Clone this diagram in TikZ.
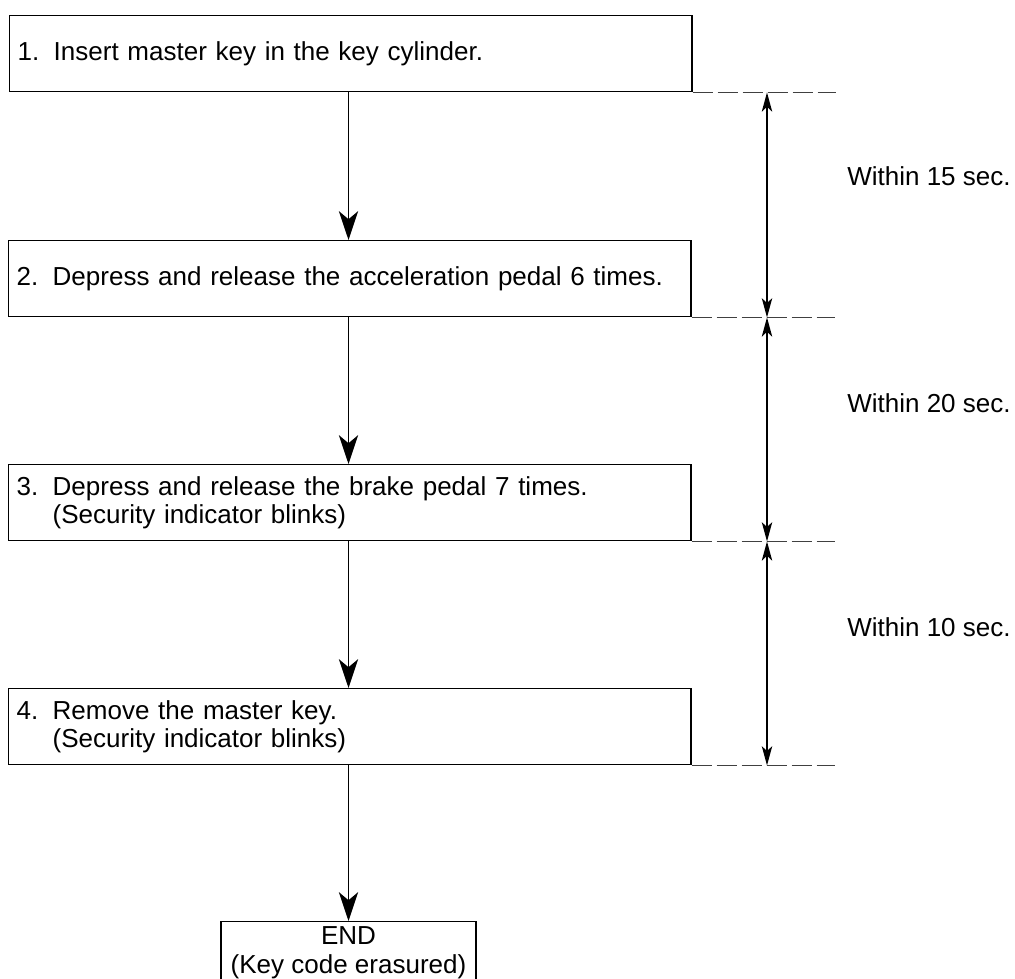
\documentclass[tikz,border=0pt]{standalone}
\usepackage{fontspec}
\setmainfont{Liberation Sans}
\usetikzlibrary{arrows.meta}

\tikzset{
  stepbox/.style={draw, line width=1pt, anchor=north west, text width=16.65cm, minimum height=1.9cm,
    align=left, inner xsep=0.2cm, inner ysep=0pt, font=\fontsize{18.5}{20.5}\selectfont},
  endbox/.style={draw, line width=1pt, anchor=north, minimum width=6.375cm, minimum height=1.55cm,
    align=center, inner sep=0pt, font=\fontsize{18.5}{20.5}\selectfont},
  flow/.style={-{Stealth[length=0.72cm, width=0.48cm, inset=0.2cm]}, line width=1pt},
  span/.style={{Stealth[length=0.48cm, width=0.26cm, inset=0.12cm]}-{Stealth[length=0.48cm, width=0.26cm, inset=0.12cm]}, line width=1pt},
  guide/.style={draw=black!75, line width=1pt, dash pattern=on 0.5cm off 0.125cm},
  timelabel/.style={anchor=west, inner xsep=0pt, font=\fontsize{18.5}{20.5}\selectfont}
}
\newcommand{\stepno}[1]{\makebox[0.9cm][l]{#1}}

\begin{document}
\begin{tikzpicture}[x=0.025cm, y=-0.025cm]
\useasboundingbox (0,0) rectangle (1015,979);

% --- Steps ---
\node[stepbox] (s1) at (9,15) {\stepno{1.}Insert master key in the key cylinder.};
\node[stepbox] (s2) at (8,240) {\stepno{2.}Depress and release the acceleration pedal 6 times.};
\node[stepbox] (s3) at (8,464) {\stepno{3.}Depress and release the brake pedal 7 times.\\\hspace*{0.9cm}(Security indicator blinks)};
\node[stepbox] (s4) at (8,688) {\stepno{4.}Remove the master key.\\\hspace*{0.9cm}(Security indicator blinks)};
\node[endbox] (fin) at (348.5,921) {END\\(Key code erasured)};

% --- Flow arrows ---
\draw[flow] (s1.south -| fin.north) -- (s2.north -| fin.north);
\draw[flow] (s2.south -| fin.north) -- (s3.north -| fin.north);
\draw[flow] (s3.south -| fin.north) -- (s4.north -| fin.north);
\draw[flow] (s4.south -| fin.north) -- (fin.north);

% --- Time limits ---
\foreach \s in {s1,s2,s3,s4} {
  \draw[guide] (\s.south east) -- ++(143,0) coordinate (\s-end);
  \coordinate (\s-dim) at (\s.south east -| 767,0);
}
\draw[span] (s1-dim) -- (s2-dim);
\draw[span] (s2-dim) -- (s3-dim);
\draw[span] (s3-dim) -- (s4-dim);
\node[timelabel] (t1) at (847,176) {Within 15 sec.};
\node[timelabel] (t2) at (847,403) {Within 20 sec.};
\node[timelabel] (t3) at (847,627) {Within 10 sec.};

\end{tikzpicture}
\end{document}
